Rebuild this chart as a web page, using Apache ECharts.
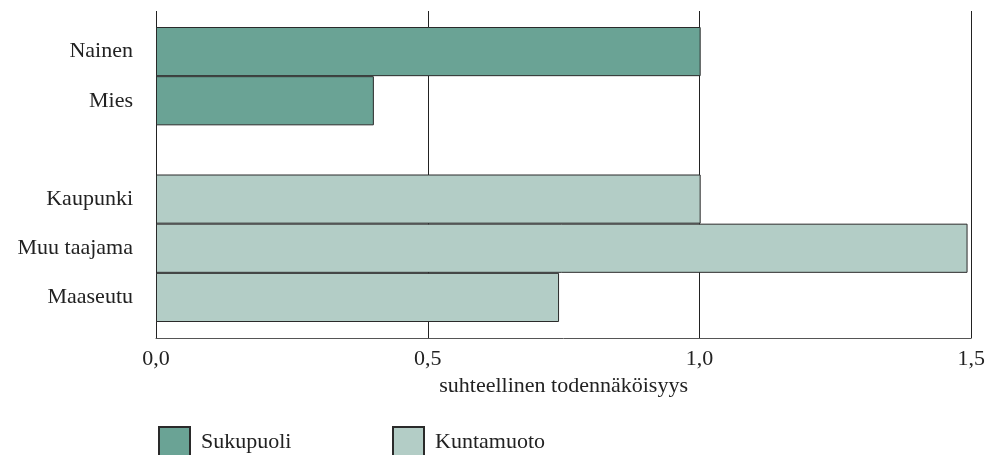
<!DOCTYPE html>
<html>
<head>
<meta charset="utf-8">
<script src="https://cdn.jsdelivr.net/npm/echarts@6/dist/echarts.min.js"></script>
<style>
  html, body { margin: 0; padding: 0; background: #fff; }
  #chart_container { width: 988px; height: 455px; }
</style>
</head>
<body>
<div id="chart_container"></div>
<script>
// 数据
var categories = ['Nainen', 'Mies', '', 'Kaupunki', 'Muu taajama', 'Maaseutu']
var sukupuoli  = [1.0, 0.40, null, null, null, null]
var kuntamuoto = [null, null, null, 1.0, 1.49, 0.74]
var xMin = 0, xMax = 1.5, xStep = 0.5
var axisName = 'suhteellinen todennäköisyys'

var font = 'Liberation Serif'
var textColor = '#222'

var chart = echarts.init(document.getElementById('chart_container'))
var option = {
    animation: false,
    textStyle: { fontFamily: font, color: textColor },
    grid: [
        // 柱子
        { left: 156, right: 15, top: 27, height: 295 },
        // 背景竖线 + 底部坐标轴
        { left: 156, right: 15, top: 11, height: 327 }
    ],
    xAxis: [
        { gridIndex: 0, type: 'value', min: xMin, max: xMax, interval: xStep, show: false },
        {
            gridIndex: 1, type: 'value', min: xMin, max: xMax, interval: xStep,
            axisLine: { show: true, lineStyle: { color: '#555', width: 1 } },
            axisTick: { show: false },
            splitLine: { show: true, lineStyle: { color: '#222', width: 1 } },
            axisLabel: {
                fontFamily: font, fontSize: 22, color: textColor, margin: 10,
                formatter: function (v) { return v.toFixed(1).replace('.', ',') }
            },
            name: axisName, nameLocation: 'middle', nameGap: 37,
            nameTextStyle: { fontFamily: font, fontSize: 22, color: textColor }
        }
    ],
    yAxis: [
        {
            gridIndex: 0, type: 'category', inverse: true, data: categories,
            axisLine: { show: false }, axisTick: { show: false }, splitLine: { show: false },
            axisLabel: { fontFamily: font, fontSize: 22, color: textColor, margin: 23 }
        },
        { gridIndex: 1, type: 'value', show: false }
    ],
    legend: [
        {
            data: ['Sukupuoli'], left: 158, top: 426, icon: 'rect', padding: 0,
            itemWidth: 31, itemHeight: 30,
            textStyle: { fontFamily: font, fontSize: 22, color: textColor, padding: [0, 0, 6, 6] }
        },
        {
            data: ['Kuntamuoto'], left: 392, top: 426, icon: 'rect', padding: 0,
            itemWidth: 31, itemHeight: 30,
            textStyle: { fontFamily: font, fontSize: 22, color: textColor, padding: [0, 0, 6, 6] }
        }
    ],
    series: [
        {
            name: 'Sukupuoli', type: 'bar', stack: 'all', xAxisIndex: 0, yAxisIndex: 0,
            barCategoryGap: '0%',
            itemStyle: { color: '#6aa395', borderColor: '#2a2a2a', borderWidth: 1 },
            data: sukupuoli
        },
        {
            name: 'Kuntamuoto', type: 'bar', stack: 'all', xAxisIndex: 0, yAxisIndex: 0,
            barCategoryGap: '0%',
            itemStyle: { color: '#b3cdc6', borderColor: '#2a2a2a', borderWidth: 1 },
            data: kuntamuoto
        }
    ]
}
chart.setOption(option)
</script>
</body>
</html>
